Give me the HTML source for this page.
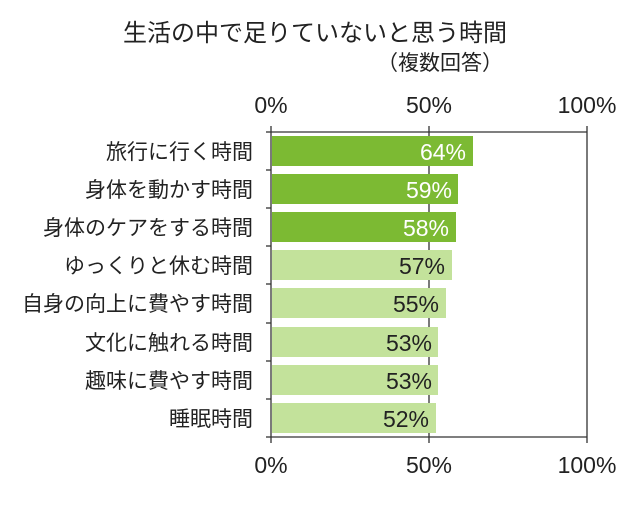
<!DOCTYPE html>
<html><head><meta charset="utf-8"><style>
body{margin:0;background:#fff;}
svg text{font-family:"Liberation Sans","Noto Sans CJK JP",sans-serif;}
</style></head><body>
<svg width="640" height="520" xmlns="http://www.w3.org/2000/svg">
<rect width="640" height="520" fill="#fff"/>
<text x="315" y="41" font-size="24" text-anchor="middle" fill="#222">生活の中で足りていないと思う時間</text>
<text x="440" y="70" font-size="21" text-anchor="middle" fill="#222">（複数回答）</text>
<g font-size="23" fill="#222" text-anchor="middle">
<text x="271" y="113">0%</text><text x="429" y="113">50%</text><text x="587" y="113">100%</text>
<text x="271" y="473">0%</text><text x="429" y="473">50%</text><text x="587" y="473">100%</text>
</g>
<g stroke="#333" stroke-width="1.3">
<line x1="271" y1="132" x2="587" y2="132"/>
<line x1="271" y1="437" x2="587" y2="437"/>
<line x1="587" y1="126" x2="587" y2="443"/>
<line x1="429" y1="126" x2="429" y2="443"/>
<line x1="271" y1="126" x2="271" y2="443"/>
<line x1="266" y1="132" x2="271" y2="132"/><line x1="266" y1="170" x2="271" y2="170"/>
<line x1="266" y1="208" x2="271" y2="208"/><line x1="266" y1="246" x2="271" y2="246"/>
<line x1="266" y1="284" x2="271" y2="284"/><line x1="266" y1="323" x2="271" y2="323"/>
<line x1="266" y1="361" x2="271" y2="361"/><line x1="266" y1="399" x2="271" y2="399"/>
<line x1="266" y1="437" x2="271" y2="437"/>
</g>
<g>
<rect x="272" y="136" width="201" height="30" fill="#7cba33"/>
<rect x="272" y="174" width="186" height="30" fill="#7cba33"/>
<rect x="272" y="212" width="184" height="30" fill="#7cba33"/>
<rect x="272" y="250" width="180" height="30" fill="#c3e29b"/>
<rect x="272" y="288" width="174" height="30" fill="#c3e29b"/>
<rect x="272" y="327" width="166" height="30" fill="#c3e29b"/>
<rect x="272" y="365" width="166" height="30" fill="#c3e29b"/>
<rect x="272" y="403" width="164" height="30" fill="#c3e29b"/>
</g>
<g font-size="23" text-anchor="end">
<text x="466" y="160" fill="#fff">64%</text>
<text x="452" y="198" fill="#fff">59%</text>
<text x="449" y="236" fill="#fff">58%</text>
<text x="445" y="274" fill="#222">57%</text>
<text x="439" y="312" fill="#222">55%</text>
<text x="432" y="351" fill="#222">53%</text>
<text x="432" y="389" fill="#222">53%</text>
<text x="429" y="427" fill="#222">52%</text>
</g>
<g font-size="21" text-anchor="end" fill="#222">
<text x="253" y="159">旅行に行く時間</text>
<text x="253" y="197">身体を動かす時間</text>
<text x="253" y="235">身体のケアをする時間</text>
<text x="253" y="273">ゆっくりと休む時間</text>
<text x="253" y="311">自身の向上に費やす時間</text>
<text x="253" y="350">文化に触れる時間</text>
<text x="253" y="388">趣味に費やす時間</text>
<text x="253" y="426">睡眠時間</text>
</g>
</svg>
</body></html>
